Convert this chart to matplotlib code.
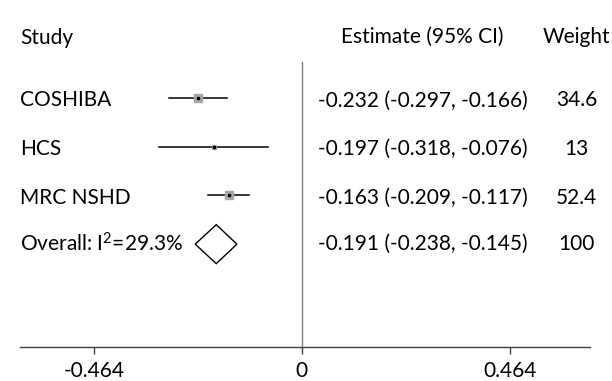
import matplotlib
matplotlib.use("Agg")
import matplotlib.pyplot as plt
from matplotlib.patches import Polygon

# data
studies = ["COSHIBA", "HCS", "MRC NSHD"]
est = [-0.232, -0.197, -0.163]
lo = [-0.297, -0.318, -0.209]
hi = [-0.166, -0.076, -0.117]
weights = [34.6, 13, 52.4]
overall = (-0.191, -0.238, -0.145)
overall_label = "Overall: I$^{2}$=29.3%"
ticks = [-0.464, 0, 0.464]
tick_labels = ["-0.464", "0", "0.464"]

plt.rcParams['font.family'] = ['Lato', 'DejaVu Sans']
plt.rcParams['mathtext.fontset'] = 'custom'
plt.rcParams['mathtext.rm'] = 'Lato'
plt.rcParams['mathtext.default'] = 'regular'
fs = 15

fig = plt.figure(figsize=(6.12, 3.81), dpi=100)
ax = fig.add_axes([20 / 612, 34 / 381, 570 / 612, 347 / 381])
ax.set_xlim(-0.629, 0.643)
ax.set_ylim(6.11, -1.01)

for s in ["top", "right", "left"]:
    ax.spines[s].set_visible(False)
ax.spines["bottom"].set_color("#404040")
ax.spines["bottom"].set_linewidth(1.0)
ax.set_yticks([])
ax.set_xticks(ticks)
ax.set_xticklabels(tick_labels, fontsize=fs)
ax.tick_params(axis="x", length=5, width=1, color="#404040", pad=5)

# null line
ax.plot([0, 0], [0.26, 6.11], color="#808080", lw=1)

x_est = 0.269   # centre of estimate column
x_w = 0.613     # centre of weight column

rows = range(1, len(studies) + 1)
for r, name, e, l, h, w in zip(rows, studies, est, lo, hi, weights):
    ax.plot([l, h], [r, r], color="black", lw=1.1)
    ax.plot(e, r, marker="s", ms=0.86 * w ** 0.5, color="#a6a6a6", mec="#a6a6a6")
    ax.plot(e, r, marker="s", ms=2, color="black")
    ax.text(-0.629, r + 0.05, name, fontsize=fs, va="center", ha="left")
    ax.text(x_est, r + 0.05, f"{e:.3f} ({l:.3f}, {h:.3f})", fontsize=fs, va="center", ha="center")
    ax.text(x_w, r + 0.05, f"{w:g}", fontsize=fs, va="center", ha="center")

# overall diamond
r = len(studies) + 1
e, l, h = overall
ax.add_patch(Polygon([(l, r), (e, r - 0.4), (h, r), (e, r + 0.4)],
                     closed=True, facecolor="white", edgecolor="black", lw=1))
ax.text(-0.629, r, overall_label, fontsize=fs, va="center", ha="left")
ax.text(x_est, r, f"{e:.3f} ({l:.3f}, {h:.3f})", fontsize=fs, va="center", ha="center")
ax.text(x_w, r, "100", fontsize=fs, va="center", ha="center")

# header
ax.text(-0.629, -0.23, "Study", fontsize=fs, va="center", ha="left")
ax.text(x_est, -0.25, "Estimate (95% CI)", fontsize=fs, va="center", ha="center")
ax.text(x_w, -0.25, "Weight", fontsize=fs, va="center", ha="center")

fig.savefig("out.png", dpi=100)
